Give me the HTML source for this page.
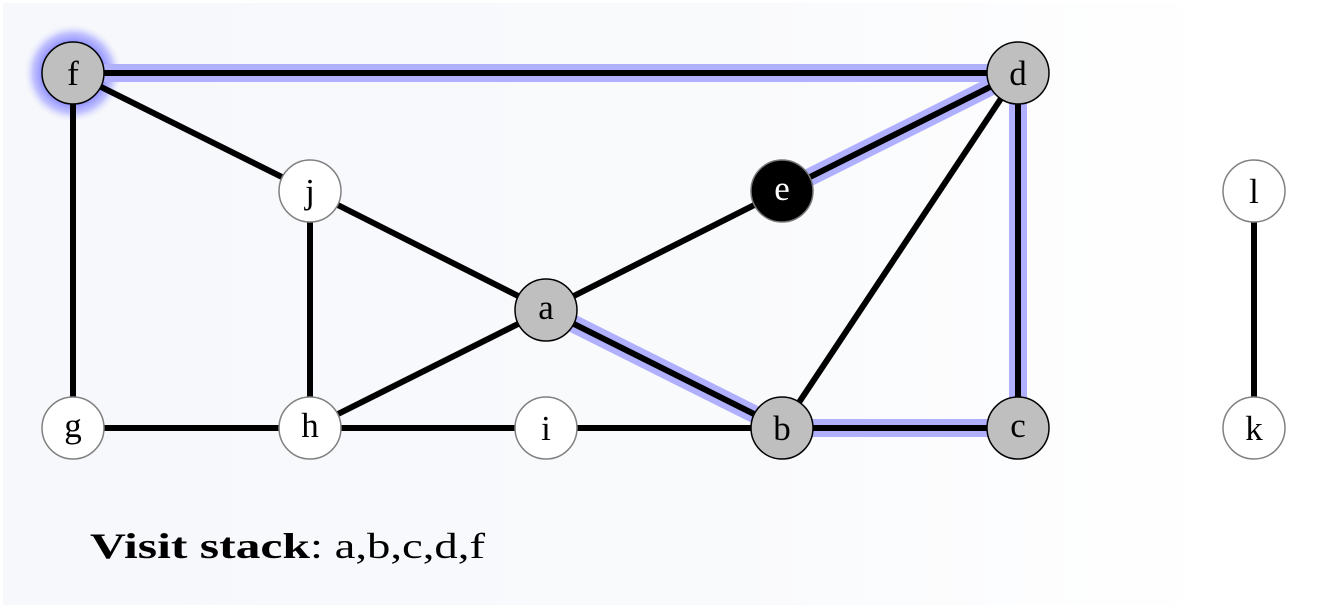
<!DOCTYPE html>
<html><head><meta charset="utf-8"><style>
html,body{margin:0;padding:0;background:#fff;}
svg{display:block;}
text{font-family:"Liberation Serif",serif;}
</style></head><body>
<svg width="1330" height="609" viewBox="0 0 1330 609" xmlns="http://www.w3.org/2000/svg">
<defs>
<linearGradient id="bg" x1="0" x2="1" y1="0" y2="0">
<stop offset="0" stop-color="#f6f8fb"/><stop offset="0.6" stop-color="#f9fafc"/><stop offset="1" stop-color="#ffffff"/>
</linearGradient>
<radialGradient id="glow">
<stop offset="0.55" stop-color="#8080ff"/><stop offset="0.8" stop-color="#c4c4ff"/><stop offset="1" stop-color="#f6f8fb" stop-opacity="0"/>
</radialGradient>
</defs>
<rect x="3" y="3" width="1215" height="602" fill="url(#bg)"/>
<circle cx="73" cy="73" r="50" fill="url(#glow)"/>
<g stroke="#b0b0ff" stroke-width="18" fill="none">
<line x1="73" y1="73" x2="1018" y2="73"/>
<line x1="782" y1="191" x2="1018" y2="73"/>
<line x1="1018" y1="73" x2="1018" y2="428"/>
<line x1="546" y1="310" x2="782" y2="428"/>
<line x1="782" y1="428" x2="1018" y2="428"/>
</g>
<g stroke="#000" stroke-width="6" fill="none">
<line x1="73" y1="73" x2="1018" y2="73"/>
<line x1="782" y1="191" x2="1018" y2="73"/>
<line x1="1018" y1="73" x2="1018" y2="428"/>
<line x1="546" y1="310" x2="782" y2="428"/>
<line x1="782" y1="428" x2="1018" y2="428"/>
<line x1="73" y1="73" x2="310" y2="191"/>
<line x1="73" y1="73" x2="73" y2="428"/>
<line x1="310" y1="191" x2="546" y2="310"/>
<line x1="310" y1="191" x2="310" y2="428"/>
<line x1="546" y1="310" x2="782" y2="191"/>
<line x1="546" y1="310" x2="310" y2="428"/>
<line x1="73" y1="428" x2="782" y2="428"/>
<line x1="782" y1="428" x2="1018" y2="73"/>
<line x1="1254" y1="191" x2="1254" y2="428"/>
</g>
<g stroke-width="1.5">
<circle cx="73" cy="73" r="31" fill="#bfbfbf" stroke="#000"/>
<circle cx="1018" cy="73" r="31" fill="#bfbfbf" stroke="#000"/>
<circle cx="546" cy="310" r="31" fill="#bfbfbf" stroke="#000"/>
<circle cx="782" cy="428" r="31" fill="#bfbfbf" stroke="#000"/>
<circle cx="1018" cy="428" r="31" fill="#bfbfbf" stroke="#000"/>
<circle cx="782" cy="191" r="31" fill="#000" stroke="#777"/>
<circle cx="310" cy="191" r="31" fill="#fff" stroke="#808080"/>
<circle cx="1254" cy="191" r="31" fill="#fff" stroke="#808080"/>
<circle cx="73" cy="428" r="31" fill="#fff" stroke="#808080"/>
<circle cx="310" cy="428" r="31" fill="#fff" stroke="#808080"/>
<circle cx="546" cy="428" r="31" fill="#fff" stroke="#808080"/>
<circle cx="1254" cy="428" r="31" fill="#fff" stroke="#808080"/>
</g>
<g font-size="35" text-anchor="middle" fill="#000">
<text x="73" y="85">f</text>
<text x="1018" y="85">d</text>
<text x="310" y="203">j</text>
<text x="782" y="200" fill="#fff">e</text>
<text x="1254" y="203">l</text>
<text x="546" y="319">a</text>
<text x="73" y="437">g</text>
<text x="310" y="437">h</text>
<text x="546" y="440">i</text>
<text x="782" y="440">b</text>
<text x="1018" y="437">c</text>
<text x="1254" y="440">k</text>
</g>
<text x="90" y="558" font-size="36" font-weight="bold" textLength="220" lengthAdjust="spacingAndGlyphs">Visit stack</text>
<text x="310" y="558" font-size="36" textLength="175" lengthAdjust="spacingAndGlyphs">: a,b,c,d,f</text>
</svg>
</body></html>
